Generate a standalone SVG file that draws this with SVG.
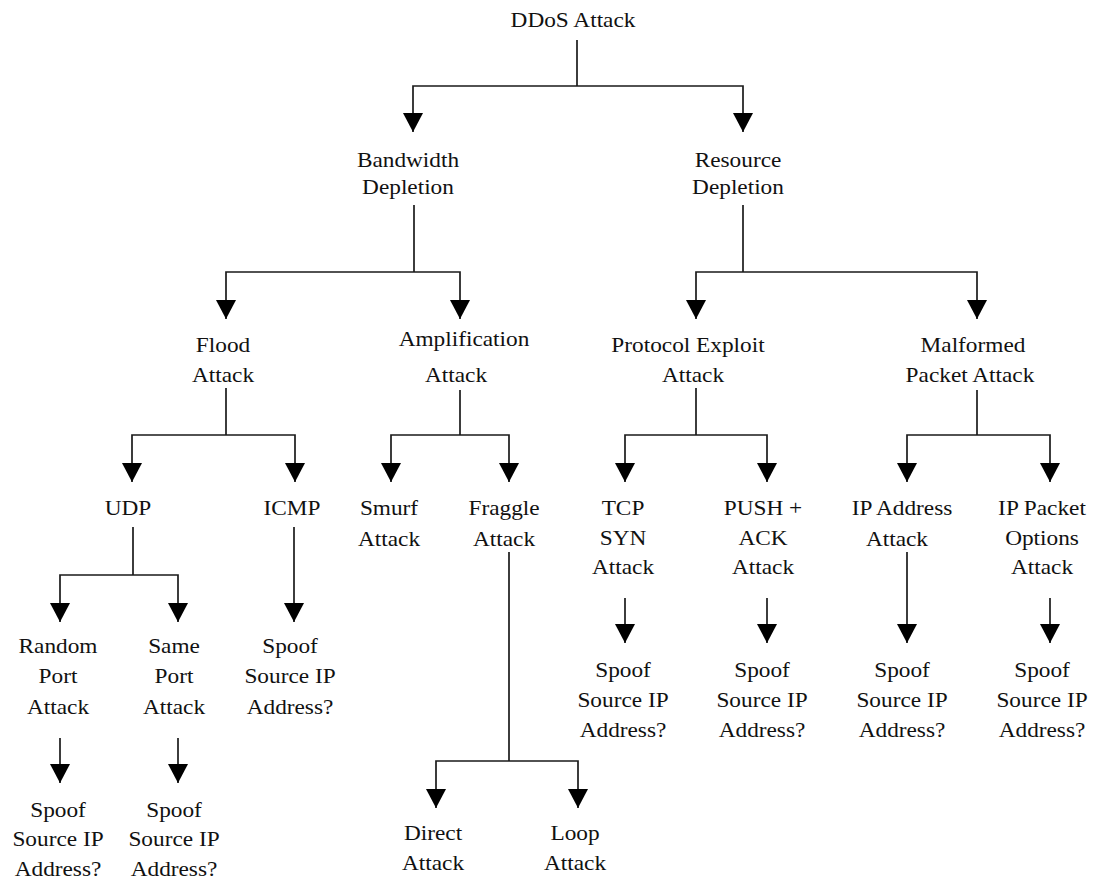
<svg xmlns="http://www.w3.org/2000/svg" width="1103" height="881" viewBox="0 0 1103 881">
<style>
text{font-family:"Liberation Serif","Times New Roman",serif;font-size:20px;fill:#111;text-anchor:middle}
.c{fill:none;stroke:#1a1a1a;stroke-width:1.7}
</style>
<defs>
<marker id="ah" markerUnits="userSpaceOnUse" viewBox="0 0 19 20" markerWidth="19" markerHeight="20" refX="19" refY="10" orient="auto">
<path d="M0,0 L19,10 L0,20 Z" fill="#000"/>
</marker>
</defs>
<rect width="1103" height="881" fill="#fff"/>
<g id="connectors">
<path class="c" d="M577,40 V86"/>
<path class="c" d="M577,86 H413 V132" marker-end="url(#ah)"/>
<path class="c" d="M577,86 H743 V132" marker-end="url(#ah)"/>
<path class="c" d="M414,205 V272"/>
<path class="c" d="M414,272 H226 V319" marker-end="url(#ah)"/>
<path class="c" d="M414,272 H460 V319" marker-end="url(#ah)"/>
<path class="c" d="M743,205 V272"/>
<path class="c" d="M743,272 H696 V319" marker-end="url(#ah)"/>
<path class="c" d="M743,272 H977 V319" marker-end="url(#ah)"/>
<path class="c" d="M226,388 V435"/>
<path class="c" d="M226,435 H132 V482" marker-end="url(#ah)"/>
<path class="c" d="M226,435 H295 V482" marker-end="url(#ah)"/>
<path class="c" d="M460,390 V435"/>
<path class="c" d="M460,435 H391 V482" marker-end="url(#ah)"/>
<path class="c" d="M460,435 H509 V482" marker-end="url(#ah)"/>
<path class="c" d="M696,388 V435"/>
<path class="c" d="M696,435 H625 V482" marker-end="url(#ah)"/>
<path class="c" d="M696,435 H767 V482" marker-end="url(#ah)"/>
<path class="c" d="M977,390 V435"/>
<path class="c" d="M977,435 H907 V482" marker-end="url(#ah)"/>
<path class="c" d="M977,435 H1050 V482" marker-end="url(#ah)"/>
<path class="c" d="M133,527 V575"/>
<path class="c" d="M133,575 H60 V622" marker-end="url(#ah)"/>
<path class="c" d="M133,575 H178 V622" marker-end="url(#ah)"/>
<path class="c" d="M294,527 V622" marker-end="url(#ah)"/>
<path class="c" d="M509,552 V761"/>
<path class="c" d="M509,761 H436 V808" marker-end="url(#ah)"/>
<path class="c" d="M509,761 H578 V808" marker-end="url(#ah)"/>
<path class="c" d="M625,598 V643" marker-end="url(#ah)"/>
<path class="c" d="M767,598 V643" marker-end="url(#ah)"/>
<path class="c" d="M907,552 V643" marker-end="url(#ah)"/>
<path class="c" d="M1050,598 V643" marker-end="url(#ah)"/>
<path class="c" d="M60,738 V783" marker-end="url(#ah)"/>
<path class="c" d="M178,738 V783" marker-end="url(#ah)"/>
</g>
<g id="n-ddos" transform="translate(573 0) scale(1.165 1)"><text y="27">DDoS Attack</text></g>
<g id="n-bandwidth" transform="translate(408 0) scale(1.165 1)"><text y="167">Bandwidth</text><text y="194">Depletion</text></g>
<g id="n-resource" transform="translate(738 0) scale(1.165 1)"><text y="167">Resource</text><text y="194">Depletion</text></g>
<g id="n-flood" transform="translate(223 0) scale(1.165 1)"><text y="352">Flood</text><text y="382">Attack</text></g>
<g id="n-amplification" transform="translate(460 0) scale(1.165 1)"><text x="3.4" y="346">Amplification</text><text x="-3.4" y="382">Attack</text></g>
<g id="n-protocol" transform="translate(690 0) scale(1.165 1)"><text x="-1.7" y="352">Protocol Exploit</text><text x="2.6" y="382">Attack</text></g>
<g id="n-malformed" transform="translate(971 0) scale(1.165 1)"><text x="1.7" y="352">Malformed</text><text x="-0.9" y="382">Packet Attack</text></g>
<g id="n-udp" transform="translate(128 0) scale(1.165 1)"><text y="515">UDP</text></g>
<g id="n-icmp" transform="translate(292 0) scale(1.165 1)"><text y="515">ICMP</text></g>
<g id="n-smurf" transform="translate(389 0) scale(1.165 1)"><text y="515">Smurf</text><text y="546">Attack</text></g>
<g id="n-fraggle" transform="translate(504 0) scale(1.165 1)"><text y="515">Fraggle</text><text y="546">Attack</text></g>
<g id="n-tcpsyn" transform="translate(623 0) scale(1.165 1)"><text y="515">TCP</text><text y="545">SYN</text><text y="574">Attack</text></g>
<g id="n-pushack" transform="translate(763 0) scale(1.165 1)"><text y="515">PUSH +</text><text y="545">ACK</text><text y="574">Attack</text></g>
<g id="n-ipaddress" transform="translate(900 0) scale(1.165 1)"><text x="1.7" y="515">IP Address</text><text x="-2.6" y="546">Attack</text></g>
<g id="n-ippacket" transform="translate(1042 0) scale(1.165 1)"><text y="515">IP Packet</text><text y="545">Options</text><text y="574">Attack</text></g>
<g id="n-randomport" transform="translate(58 0) scale(1.165 1)"><text y="653">Random</text><text y="683">Port</text><text y="714">Attack</text></g>
<g id="n-sameport" transform="translate(174 0) scale(1.165 1)"><text y="653">Same</text><text y="683">Port</text><text y="714">Attack</text></g>
<g id="n-spoof-icmp" transform="translate(290 0) scale(1.165 1)"><text y="653">Spoof</text><text y="683">Source IP</text><text y="714">Address?</text></g>
<g id="n-spoof-random" transform="translate(58 0) scale(1.165 1)"><text y="817">Spoof</text><text y="846">Source IP</text><text y="876">Address?</text></g>
<g id="n-spoof-same" transform="translate(174 0) scale(1.165 1)"><text y="817">Spoof</text><text y="846">Source IP</text><text y="876">Address?</text></g>
<g id="n-direct" transform="translate(433 0) scale(1.165 1)"><text y="840">Direct</text><text y="870">Attack</text></g>
<g id="n-loop" transform="translate(575 0) scale(1.165 1)"><text y="840">Loop</text><text y="870">Attack</text></g>
<g id="n-spoof-tcp" transform="translate(623 0) scale(1.165 1)"><text y="677">Spoof</text><text y="707">Source IP</text><text y="737">Address?</text></g>
<g id="n-spoof-push" transform="translate(762 0) scale(1.165 1)"><text y="677">Spoof</text><text y="707">Source IP</text><text y="737">Address?</text></g>
<g id="n-spoof-ipaddr" transform="translate(902 0) scale(1.165 1)"><text y="677">Spoof</text><text y="707">Source IP</text><text y="737">Address?</text></g>
<g id="n-spoof-ippkt" transform="translate(1042 0) scale(1.165 1)"><text y="677">Spoof</text><text y="707">Source IP</text><text y="737">Address?</text></g>
</svg>
